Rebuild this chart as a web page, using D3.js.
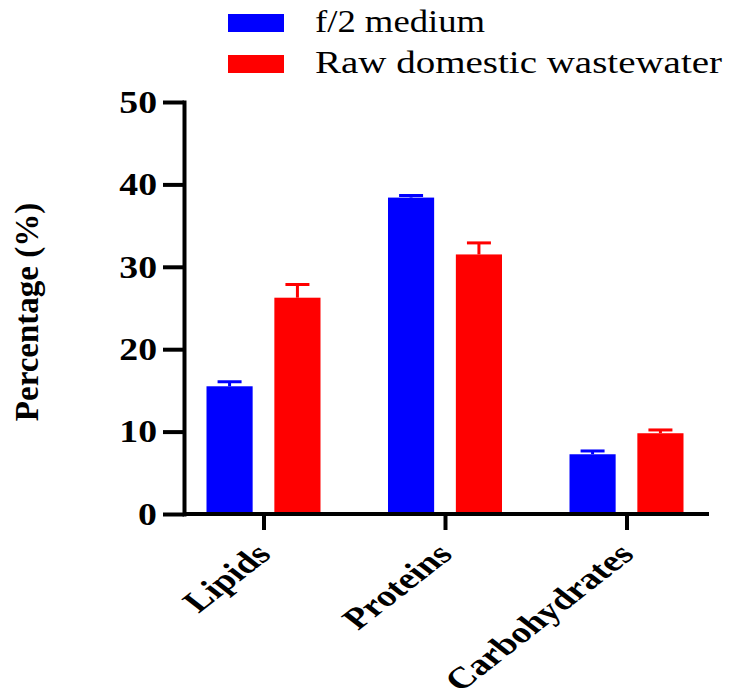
<!DOCTYPE html>
<html>
<head>
<meta charset="utf-8">
<script src="https://cdn.jsdelivr.net/npm/d3@7"></script>
<style>
  html, body { margin: 0; padding: 0; background: #fff; }
  svg { display: block; }
</style>
</head>
<body>
<svg id="chart" width="729" height="700"></svg>
<script>
const categories = ["Lipids", "Proteins", "Carbohydrates"];
const seriesNames = ["f/2 medium", "Raw domestic wastewater"];
const f2Values = [15.5, 38.4, 7.25];
const f2Errors = [0.55, 0.25, 0.4];
const rawValues = [26.25, 31.5, 9.8];
const rawErrors = [1.6, 1.4, 0.4];
const yTicks = [0, 10, 20, 30, 40, 50];
const colors = ["#0000ff", "#ff0000"];

const seriesValues = [f2Values, rawValues];
const seriesErrors = [f2Errors, rawErrors];

const svg = d3.select("#chart");
const font = "'Liberation Serif', 'Times New Roman', serif";
const SX = 1.18;   // horizontal stretch of tick digits
const SXL = 1.28;  // horizontal stretch of rotated category labels

const plotLeft = 184, plotRight = 709, plotTop = 102, plotBottom = 514;

const y = d3.scaleLinear().domain([0, 50]).range([plotBottom, plotTop]);
const x = d3.scalePoint().domain(categories).range([263.5, 626.5]);
const xs = d3.scaleBand().domain(seriesNames).range([-57, 57]).paddingInner(0.32).paddingOuter(0);

const rows = [];
categories.forEach((c, i) => {
  seriesNames.forEach((s, j) => {
    rows.push({ cat: c, ser: s, v: seriesValues[j][i], e: seriesErrors[j][i], color: colors[j] });
  });
});

const g = svg.append("g");
g.selectAll("rect.bar").data(rows).join("rect")
  .attr("class", "bar")
  .attr("x", d => x(d.cat) + xs(d.ser))
  .attr("width", xs.bandwidth())
  .attr("y", d => y(d.v))
  .attr("height", d => y(0) - y(d.v))
  .attr("fill", d => d.color);

const capW = 24;
g.selectAll("line.err").data(rows).join("line")
  .attr("class", "err")
  .attr("x1", d => x(d.cat) + xs(d.ser) + xs.bandwidth() / 2)
  .attr("x2", d => x(d.cat) + xs(d.ser) + xs.bandwidth() / 2)
  .attr("y1", d => y(d.v))
  .attr("y2", d => y(d.v + d.e))
  .attr("stroke", d => d.color)
  .attr("stroke-width", 3);
g.selectAll("line.cap").data(rows).join("line")
  .attr("class", "cap")
  .attr("x1", d => x(d.cat) + xs(d.ser) + xs.bandwidth() / 2 - capW / 2)
  .attr("x2", d => x(d.cat) + xs(d.ser) + xs.bandwidth() / 2 + capW / 2)
  .attr("y1", d => y(d.v + d.e))
  .attr("y2", d => y(d.v + d.e))
  .attr("stroke", d => d.color)
  .attr("stroke-width", 3);

// y axis
const yTickSize = 21, yPad = 6;
const yAxis = svg.append("g")
  .attr("transform", `translate(${plotLeft},0)`)
  .call(d3.axisLeft(y).tickValues(yTicks).tickFormat(d3.format("d")).tickSize(yTickSize).tickSizeOuter(0).tickPadding(yPad));
yAxis.select(".domain").attr("stroke", "#000").attr("stroke-width", 4).attr("stroke-linecap", "square");
yAxis.selectAll(".tick line").attr("stroke", "#000").attr("stroke-width", 4);
yAxis.selectAll(".tick text")
  .attr("x", 0)
  .attr("transform", `translate(${-(yTickSize + yPad)},0) scale(${SX},1)`)
  .attr("font-family", font).attr("font-weight", "bold").attr("font-size", 32).attr("fill", "#000");

// x axis
svg.append("line")
  .attr("x1", plotLeft).attr("x2", plotRight)
  .attr("y1", y(0)).attr("y2", y(0))
  .attr("stroke", "#000").attr("stroke-width", 4);
const xAxis = svg.append("g")
  .attr("transform", `translate(0,${y(0)})`)
  .call(d3.axisBottom(x).tickSize(16).tickSizeOuter(0));
xAxis.select(".domain").remove();
xAxis.selectAll(".tick line").attr("stroke", "#000").attr("stroke-width", 4);
xAxis.selectAll(".tick text").remove();

svg.append("g").selectAll("text.xlab").data(categories).join("text")
  .attr("class", "xlab")
  .attr("transform", d => `translate(${x(d) + 9},556) scale(${SXL},1) rotate(-45)`)
  .attr("text-anchor", "end")
  .attr("font-family", font).attr("font-weight", "bold").attr("font-size", 30)
  .text(d => d);

// y label
svg.append("text")
  .attr("transform", `translate(38,312) scale(1.05,1) rotate(-90)`)
  .attr("text-anchor", "middle")
  .attr("font-family", font).attr("font-weight", "bold").attr("font-size", 33)
  .text("Percentage (%)");

// legend
const legend = svg.append("g");
const legY = [14, 55];
const legW = [170, 407];
seriesNames.forEach((s, j) => {
  legend.append("rect")
    .attr("x", 228).attr("y", legY[j]).attr("width", 56).attr("height", 18)
    .attr("fill", colors[j]);
  legend.append("text")
    .attr("x", 315).attr("y", legY[j] + 18)
    .attr("font-family", font).attr("font-size", 31)
    .attr("textLength", legW[j]).attr("lengthAdjust", "spacingAndGlyphs")
    .text(s);
});
</script>
</body>
</html>
